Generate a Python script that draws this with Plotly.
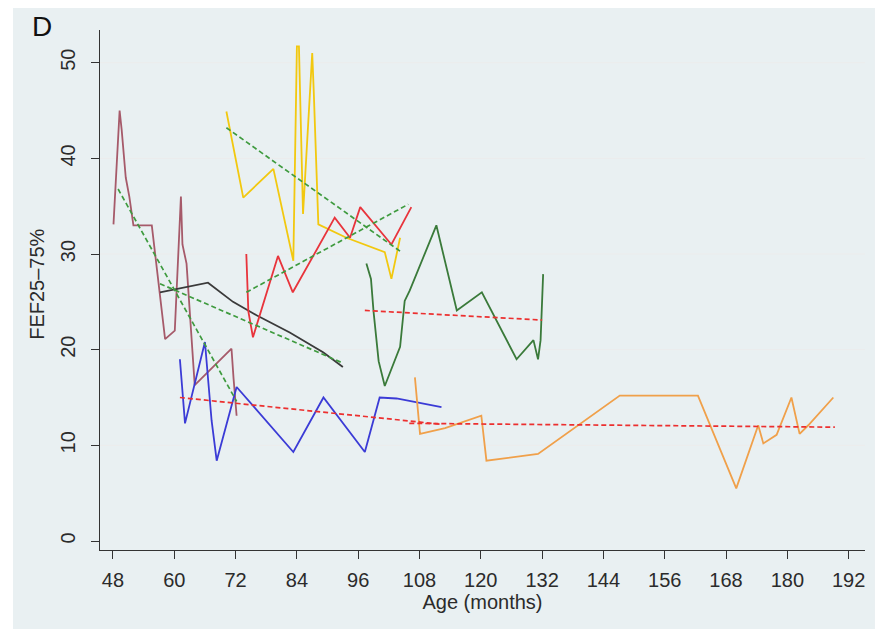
import plotly.graph_objects as go

# ---- individual series (age in months, FEF25-75%) ----
brown_age = [48.1, 49.3, 49.7, 50.5, 51.2, 52.0, 55.6, 56.5, 57.2, 58.2, 60.1, 61.3, 61.6, 62.4, 64.0, 71.2, 71.6, 72.2]
brown_val = [33.1, 45.0, 43.0, 38.0, 36.0, 33.0, 33.0, 29.0, 26.0, 21.1, 22.0, 36.0, 31.0, 29.0, 16.3, 20.1, 17.0, 13.1]

black_age = [57.2, 66.6, 71.5, 76.1, 82.6, 89.2, 93.0]
black_val = [26.0, 27.0, 25.0, 23.6, 21.8, 19.7, 18.2]

yellow_age = [70.2, 73.5, 79.4, 83.3, 84.0, 84.4, 85.2, 86.5, 87.0, 87.3, 88.2, 93.7, 101.2, 102.5, 104.2]
yellow_val = [44.9, 35.9, 38.9, 29.3, 51.7, 51.7, 34.2, 47.0, 51.0, 47.0, 33.1, 31.7, 30.2, 27.4, 31.7]

red_age = [74.1, 74.5, 75.4, 80.3, 83.2, 91.4, 94.4, 96.4, 102.5, 106.4]
red_val = [30.0, 24.0, 21.3, 29.8, 26.0, 33.8, 31.7, 34.9, 31.0, 34.9]

blue_age = [61.1, 62.1, 66.0, 67.3, 68.3, 72.2, 83.3, 89.2, 97.3, 100.2, 103.5, 107.4, 112.3]
blue_val = [19.0, 12.3, 20.8, 12.6, 8.4, 16.1, 9.3, 15.0, 9.3, 15.0, 14.9, 14.5, 14.0]

green_age = [97.6, 98.5, 99.0, 100.0, 101.2, 104.2, 105.1, 106.1, 111.3, 115.3, 120.2, 127.0, 130.3, 131.2, 131.7, 132.2]
green_val = [29.0, 27.4, 24.0, 18.8, 16.2, 20.3, 25.1, 26.2, 33.0, 24.1, 26.0, 19.0, 21.0, 19.0, 21.0, 27.9]

orange_age = [107.1, 108.1, 113.0, 120.1, 121.1, 131.2, 147.2, 162.5, 170.0, 174.3, 175.3, 177.9, 180.8, 182.4, 184.1, 189.0]
orange_val = [17.1, 11.2, 11.8, 13.1, 8.4, 9.1, 15.2, 15.2, 5.5, 12.1, 10.2, 11.1, 15.0, 11.2, 12.1, 15.0]

# ---- fitted trend lines (endpoints) ----
fit_brown_age = [49.0, 72.2]
fit_brown_val = [36.8, 14.6]
fit_black_age = [57.2, 93.0]
fit_black_val = [26.9, 18.6]
fit_yellow_age = [70.2, 104.2]
fit_yellow_val = [43.2, 30.3]
fit_red_age = [74.1, 105.8]
fit_red_val = [26.0, 35.2]
fit_blue_age = [61.1, 112.3]
fit_blue_val = [15.0, 12.2]
fit_green_age = [97.3, 132.0]
fit_green_val = [24.1, 23.1]
fit_orange_age = [106.0, 189.3]
fit_orange_val = [12.3, 11.9]

x_ticks = [48, 60, 72, 84, 96, 108, 120, 132, 144, 156, 168, 180, 192]
y_ticks = [0, 10, 20, 30, 40, 50]

FONT = "Arial, 'Liberation Sans', sans-serif"
TXT = "#2b2b2b"

fig = go.Figure()

GREEN_D = "#3f9b3f"
RED_D = "#ec2f2f"

fits = [
    (fit_brown_age, fit_brown_val, GREEN_D),
    (fit_black_age, fit_black_val, GREEN_D),
    (fit_yellow_age, fit_yellow_val, GREEN_D),
    (fit_red_age, fit_red_val, GREEN_D),
    (fit_blue_age, fit_blue_val, RED_D),
    (fit_green_age, fit_green_val, RED_D),
    (fit_orange_age, fit_orange_val, RED_D),
]

series = [
    (brown_age, brown_val, "#a65a6a"),
    (black_age, black_val, "#3a3a3a"),
    (yellow_age, yellow_val, "#f2c80f"),
    (red_age, red_val, "#e8343c"),
    (blue_age, blue_val, "#3b3bd6"),
    (green_age, green_val, "#3a7a3a"),
    (orange_age, orange_val, "#f0a04a"),
]

for xa, ya, c in series:
    fig.add_trace(go.Scatter(x=xa, y=ya, mode="lines",
                             line=dict(color=c, width=1.8),
                             showlegend=False, hoverinfo="skip"))

for xa, ya, c in fits:
    fig.add_trace(go.Scatter(x=xa, y=ya, mode="lines",
                             line=dict(color=c, width=1.7, dash="5px,3px"),
                             showlegend=False, hoverinfo="skip"))

shapes = [
    dict(type="rect", xref="paper", yref="paper", layer="below",
         x0=-0.1137, x1=1.013, y0=-0.152, y1=1.0423,
         fillcolor="#e9f0f2", line=dict(width=0)),
]
for v in y_ticks:
    if v == 0:
        continue
    shapes.append(dict(type="line", xref="paper", yref="y", layer="below",
                       x0=0, x1=1, y0=v, y1=v,
                       line=dict(color="#ececec", width=1)))

fig.update_layout(
    width=888, height=637,
    margin=dict(l=100, r=23, t=30, b=87),
    paper_bgcolor="white",
    plot_bgcolor="white",
    font=dict(family=FONT, size=20, color=TXT),
    shapes=shapes,
    annotations=[
        dict(text="D", xref="paper", yref="paper", x=-0.0758, y=1.006,
             xanchor="center", yanchor="middle", showarrow=False,
             font=dict(family=FONT, size=28, color="#111111")),
        dict(text="FEF25\u201375%", xref="paper", yref="paper", x=-0.0823, y=0.51,
             xanchor="center", yanchor="middle", textangle=-90, showarrow=False,
             font=dict(family=FONT, size=20, color=TXT)),
    ],
    xaxis=dict(
        range=[45.46, 195.2],
        tickvals=x_ticks, ticktext=[str(t) for t in x_ticks],
        showgrid=False, zeroline=False,
        showline=True, linecolor="#333333", linewidth=1.3,
        ticks="outside", ticklen=8, tickcolor="#333333", tickwidth=1.3,
        ticklabelstandoff=4,
        tickfont=dict(family=FONT, size=20, color=TXT),
        title=dict(text="Age (months)", standoff=4,
                   font=dict(family=FONT, size=20, color=TXT)),
    ),
    yaxis=dict(
        range=[-0.94, 53.42],
        tickvals=y_ticks, ticktext=[str(t) for t in y_ticks],
        tickangle=-90,
        showgrid=False, zeroline=False,
        showline=True, linecolor="#333333", linewidth=1.3,
        ticks="outside", ticklen=8, tickcolor="#333333", tickwidth=1.3,
        ticklabelstandoff=8,
        tickfont=dict(family=FONT, size=20, color=TXT),
    ),
)

fig.write_html("out.html")
